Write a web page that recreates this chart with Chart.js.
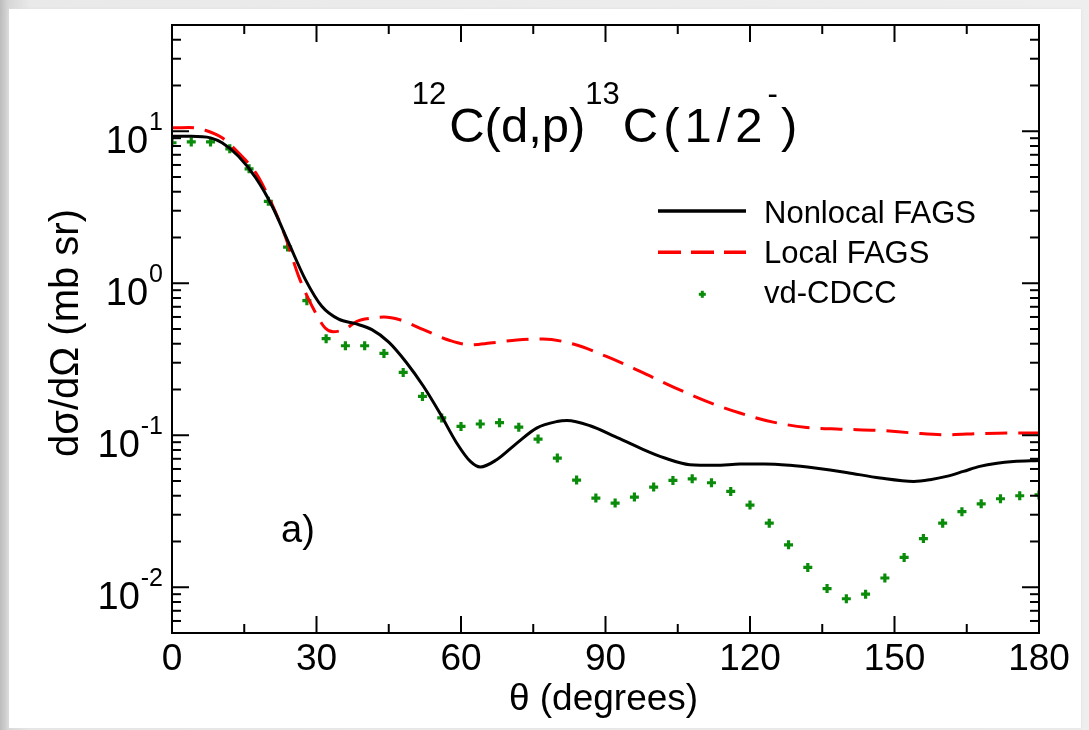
<!DOCTYPE html>
<html><head><meta charset="utf-8">
<script src="https://cdn.jsdelivr.net/npm/chart.js@4"></script>
<style>
html,body{margin:0;padding:0;width:1089px;height:730px;overflow:hidden;
background:linear-gradient(to right,#bcbcbc 0px,#d6d6d6 8px,#e9e9e9 30px,#eeeeee 100%);}
#wrap{position:absolute;left:9px;top:9px;width:1072px;height:719px;background:#fff;box-shadow:0 0 3px #e0e0e0;}
canvas{display:block;}
</style></head><body><div id="wrap"><canvas id="c" width="1072" height="719" style="width:1072px;height:719px"></canvas></div>
<script>
// ---- data ----
const nonlocalTheta = [0,4,8,10.4,13.8,17.4,20.8,24.2,27.7,31.1,34.6,38.1,41.5,45,48.7,52.2,55.6,59.1,62,64,67.4,71.6,75.7,79.9,82,86.8,92,97.2,102.3,107.5,112.7,117.9,123,128.3,133.5,140,147,154,157.4,160.8,164.3,167.7,171.3,174.7,180];
const nonlocalValues = [9.27,9.27,9.05,8.39,6.84,4.93,3.21,1.85,1.056,0.705,0.58,0.542,0.495,0.41,0.30,0.21,0.14,0.089,0.067,0.0618,0.069,0.0888,0.1115,0.123,0.125,0.1155,0.098,0.0823,0.0708,0.064,0.0634,0.0646,0.0648,0.0634,0.0608,0.0569,0.0523,0.0497,0.051,0.0536,0.0578,0.0624,0.0655,0.0672,0.0683];
const localTheta = [0,3.5,6.9,10.4,13.8,17.4,20.8,23.5,26.3,29.1,31.8,33.5,36,38.3,41.6,44,47.3,52.2,57.7,61.9,66,71.6,77,83.3,90.2,97.2,104.1,111,117.9,124.8,131.8,138.7,147,153.9,160.8,167.7,174.7,180];
const localValues = [10.53,10.6,10.15,9.05,7.21,5.32,3.29,2.04,1.11,0.705,0.508,0.48,0.50,0.56,0.59,0.60,0.575,0.495,0.42,0.394,0.404,0.423,0.43,0.398,0.33,0.263,0.2076,0.167,0.14,0.122,0.1125,0.1097,0.1076,0.1035,0.1008,0.1025,0.1035,0.1035];
const cdccTheta = [0,4,8,12,16,20,24,28,32,36,40,44,48,52,56,60,64,68,72,76,80,84,88,92,96,100,104,108,112,116,120,124,128,132,136,140,144,148,152,156,160,164,168,172,176,180];
const cdccValues = [8.4,8.5,8.5,7.66,5.66,3.46,1.73,0.768,0.432,0.388,0.388,0.3455,0.259,0.18,0.13,0.1143,0.1186,0.121,0.113,0.0944,0.0708,0.0507,0.0386,0.0358,0.0392,0.0456,0.0504,0.0517,0.0487,0.0427,0.0347,0.0264,0.019,0.0135,0.0098,0.0084,0.0090,0.0115,0.0157,0.0209,0.0264,0.0314,0.0354,0.0382,0.0400,0.0405];
const xTicks = [0,30,60,90,120,150,180];
const xMinorTicks = [15,45,75,105,135,165];
const yDecades = [-2,-1,0,1];
const seriesNames = ["Nonlocal FAGS","Local FAGS","vd-CDCC"];
const titleParts = [["12",true],["C(d,p)",false],["13",true],["C(1/2",false],["-",true],[")",false]];
const xTitle = "θ (degrees)";
const yTitle = "dσ/dΩ (mb sr)";
const panelLabel = "a)";

const pts = (xs, ys) => xs.map((x, i) => ({x: x, y: ys[i]}));
const FONT = '"Liberation Sans", Arial, Helvetica, sans-serif';
const GREEN = '#0a8c0a';

const decor = {
  id: 'decor',
  afterDatasetsDraw(chart) {
    const ctx = chart.ctx, a = chart.chartArea;
    const xs = chart.scales.x, ys = chart.scales.y;
    ctx.save();
    ctx.strokeStyle = '#000';
    ctx.fillStyle = '#000';
    ctx.lineWidth = 2;
    ctx.strokeRect(a.left, a.top, a.right - a.left, a.bottom - a.top);
    const tick = (x1, y1, x2, y2) => { ctx.beginPath(); ctx.moveTo(x1, y1); ctx.lineTo(x2, y2); ctx.stroke(); };
    xTicks.forEach(v => { const p = xs.getPixelForValue(v); tick(p, a.bottom, p, a.bottom - 17); tick(p, a.top, p, a.top + 17); });
    xMinorTicks.forEach(v => { const p = xs.getPixelForValue(v); tick(p, a.bottom, p, a.bottom - 9); tick(p, a.top, p, a.top + 9); });
    for (let k = -3; k <= 1; k++) {
      for (let m = 1; m <= 9; m++) {
        const v = m * Math.pow(10, k);
        if (v < ys.min * 0.999 || v > ys.max * 1.001) continue;
        const p = ys.getPixelForValue(v);
        const L = (m === 1) ? 17 : 9;
        tick(a.left, p, a.left + L, p); tick(a.right, p, a.right - L, p);
      }
    }
    ctx.font = '37px ' + FONT;
    ctx.textAlign = 'center'; ctx.textBaseline = 'alphabetic';
    xTicks.forEach(v => ctx.fillText(String(v), xs.getPixelForValue(v), a.bottom + 37));
    yDecades.forEach(k => {
      const p = ys.getPixelForValue(Math.pow(10, k));
      const sup = String(k);
      ctx.font = '25px ' + FONT;
      const ws = ctx.measureText(sup).width;
      ctx.textAlign = 'right';
      ctx.fillText(sup, a.left - 9, p - 1.5);
      ctx.font = '38px ' + FONT;
      ctx.fillText('10', a.left - 9 - ws - 1, p + 21.7);
    });
    ctx.font = '37px ' + FONT; ctx.textAlign = 'center';
    ctx.fillText(xTitle, (a.left + a.right) / 2 - 2, 701);
    ctx.save();
    ctx.translate(69, 324); ctx.rotate(-Math.PI / 2);
    ctx.font = '40px ' + FONT; ctx.textAlign = 'center';
    ctx.fillText(yTitle, 0, 0);
    ctx.restore();
    // title with superscripts
    let tx = 402.7;
    ctx.textAlign = 'left';
    titleParts.forEach(([t, sup], i) => {
      ctx.font = (sup ? '31px ' : '49px ') + FONT;
      ctx.letterSpacing = (i === 3) ? '5px' : '0px';
      ctx.fillText(t, tx, sup ? 95 : 133);
      tx += ctx.measureText(t).width + (sup ? 3 : 0);
    });
    ctx.letterSpacing = '0px';
    ctx.font = '38px ' + FONT;
    ctx.fillText(panelLabel, 272, 533);
    ctx.font = '31px ' + FONT;
    ctx.fillText(seriesNames[0], 755, 213.7);
    ctx.fillText(seriesNames[1], 755, 253.7);
    ctx.fillText(seriesNames[2], 755, 293.7);
    ctx.lineWidth = 3.5; ctx.strokeStyle = '#000';
    tick(649, 202, 737, 202);
    ctx.strokeStyle = '#ff0000'; ctx.setLineDash([23, 10]);
    tick(649, 243.3, 737, 243.3);
    ctx.setLineDash([]);
    ctx.strokeStyle = GREEN; ctx.lineWidth = 3;
    tick(689.8, 285.3, 696.8, 285.3); tick(693.3, 281.8, 693.3, 288.8);
    ctx.restore();
  }
};

new Chart(document.getElementById('c'), {
  type: 'line',
  data: {
    datasets: [
      { label: seriesNames[2], data: pts(cdccTheta, cdccValues), showLine: false,
        pointStyle: 'cross', pointRadius: 4.5, pointHoverRadius: 4.5, pointBorderWidth: 3.2,
        borderColor: GREEN, backgroundColor: GREEN, order: 3 },
      { label: seriesNames[1], data: pts(localTheta, localValues), borderColor: '#ff0000',
        borderWidth: 3, borderDash: [22, 11], pointRadius: 0, cubicInterpolationMode: 'monotone', fill: false, order: 2 },
      { label: seriesNames[0], data: pts(nonlocalTheta, nonlocalValues), borderColor: '#000000',
        borderWidth: 3, pointRadius: 0, cubicInterpolationMode: 'monotone', fill: false, order: 1 }
    ]
  },
  options: {
    responsive: false, animation: false,
    layout: { padding: { left: 163, top: 16, right: 42, bottom: 95 } },
    plugins: { legend: { display: false }, title: { display: false }, tooltip: { enabled: false } },
    scales: {
      x: { type: 'linear', display: false, min: 0, max: 180 },
      y: { type: 'logarithmic', display: false, min: 0.005, max: 50 }
    }
  },
  plugins: [decor]
});
</script></body></html>
